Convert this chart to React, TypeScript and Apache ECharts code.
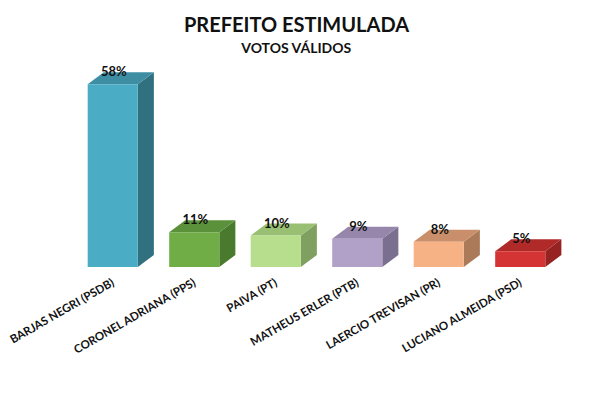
import React, { useEffect, useRef } from "react";
import * as echarts from "echarts";

const categories = [
  "BARJAS NEGRI (PSDB)",
  "CORONEL ADRIANA (PPS)",
  "PAIVA (PT)",
  "MATHEUS ERLER (PTB)",
  "LAERCIO TREVISAN (PR)",
  "LUCIANO ALMEIDA (PSD)",
];
const values = [58, 11, 10, 9, 8, 5];

const frontColors = ["#4bacc6", "#70ad47", "#b6de8c", "#b1a0c7", "#f6b184", "#d43434"];
const sideColors = ["#31707f", "#4a7a2e", "#7fa060", "#7b6f8f", "#ab7a59", "#962222"];
const topColors = ["#3e8ea3", "#5b913a", "#99c072", "#9686ab", "#c98f6b", "#b02a2a"];

const FONT = "Lato, 'Open Sans', sans-serif";

export default function App() {
  const ref = useRef<HTMLDivElement>(null);
  useEffect(() => {
    document.body.style.margin = "0";
    const chart = echarts.init(ref.current!, null, { renderer: "svg" });
    chart.setOption({
      animation: false,
      backgroundColor: "#ffffff",
      graphic: [
        {
          type: "text",
          left: "center",
          top: 14,
          style: { text: "PREFEITO ESTIMULADA", font: `bold 20px ${FONT}`, fill: "#111" },
        },
        {
          type: "text",
          left: "center",
          top: 40,
          style: { text: "VOTOS VÁLIDOS", font: `bold 14px ${FONT}`, fill: "#111" },
        },
      ],
      grid: { left: 72, right: 32, top: 78, bottom: 131, containLabel: false },
      xAxis: {
        type: "category",
        data: categories,
        axisLine: { show: false },
        axisTick: { show: false },
        splitLine: { show: false },
        axisLabel: {
          interval: 0,
          rotate: 30,
          margin: 14,
          color: "#111",
          fontSize: 11.5,
          fontWeight: "bold",
          fontFamily: FONT,
        },
      },
      yAxis: { type: "value", min: 0, max: 60, show: false },
      series: [
        {
          type: "custom",
          data: values.map((v, i) => [i, v]),
          renderItem: (params: any, api: any) => {
            const idx = params.dataIndex;
            const v = api.value(1);
            const top = api.coord([api.value(0), v]);
            const base = api.coord([api.value(0), 0]);
            const band = api.size([1, 0])[0];
            const w = band * 0.615;
            const dx = band * 0.197;
            const dy = 12;
            const x0 = top[0] - w / 2;
            const x1 = x0 + w;
            const yT = top[1];
            const yB = base[1];
            return {
              type: "group",
              children: [
                {
                  type: "polygon",
                  shape: { points: [[x1, yT], [x1 + dx, yT - dy], [x1 + dx, yB - dy], [x1, yB]] },
                  style: { fill: sideColors[idx] },
                },
                {
                  type: "polygon",
                  shape: { points: [[x0, yT], [x0 + dx, yT - dy], [x1 + dx, yT - dy], [x1, yT]] },
                  style: { fill: topColors[idx] },
                },
                {
                  type: "rect",
                  shape: { x: x0, y: yT, width: w, height: yB - yT },
                  style: { fill: frontColors[idx] },
                },
                {
                  type: "text",
                  x: top[0] + 1,
                  y: yT - 13,
                  style: {
                    text: `${v}%`,
                    align: "center",
                    verticalAlign: "middle",
                    font: `bold 13px ${FONT}`,
                    fill: "#111",
                  },
                },
              ],
            };
          },
        },
      ],
    });
    return () => chart.dispose();
  }, []);
  return <div ref={ref} style={{ width: 593, height: 398 }} />;
}
